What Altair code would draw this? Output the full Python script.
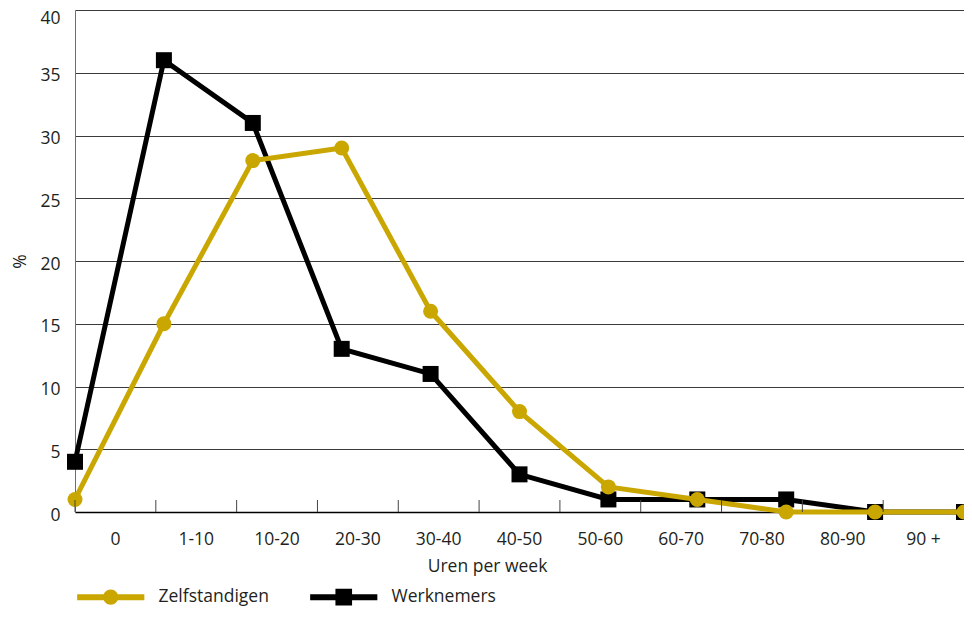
import altair as alt
import pandas as pd

categories = ['0', '1-10', '10-20', '20-30', '30-40', '40-50', '50-60',
              '60-70', '70-80', '80-90', '90 +']
zelfstandigen = [1, 15, 28, 29, 16, 8, 2, 1, 0, 0, 0]
werknemers = [4, 36, 31, 13, 11, 3, 1, 1, 1, 0, 0]
series_names = ['Zelfstandigen', 'Werknemers']
series_colors = ['#c9a700', '#000000']
y_ticks = [0, 5, 10, 15, 20, 25, 30, 35, 40]

GOLD = series_colors[0]
BLACK = series_colors[1]
FONT = 'Open Sans'
FS = 17.5
TXT = '#231f20'

rows = []
for i, c in enumerate(categories):
    rows.append({'i': i, 'cat': c, 'series': series_names[0], 'value': zelfstandigen[i]})
    rows.append({'i': i, 'cat': c, 'series': series_names[1], 'value': werknemers[i]})
df = pd.DataFrame(rows)

xq = alt.X('i:Q', scale=alt.Scale(domain=[0, 10], nice=False, zero=False), axis=None)
yq = alt.Y('value:Q', scale=alt.Scale(domain=[0, 40], nice=False),
           axis=alt.Axis(values=y_ticks, title='%', grid=True, gridColor='#3a3a3a', gridWidth=1,
                         ticks=False, tickSize=0, labelPadding=15, labelFontSize=FS,
                         labelFont=FONT, labelColor=TXT,
                         labelOffset={'condition': {'test': 'datum.value == 40', 'value': 8}, 'value': 3},
                         domainColor='#6e6e6e', domainWidth=1,
                         titleFont=FONT, titleFontSize=FS, titleFontWeight='normal', titleColor=TXT,
                         titleX=-55, titleY=251, titleAngle=270, titleAlign='center',
                         titleBaseline='middle'))

base = alt.Chart(df)

line_w = base.mark_line(color=BLACK, strokeWidth=5).encode(x=xq, y=yq).transform_filter(
    alt.datum.series == series_names[1])
pts_w = base.mark_point(shape='square', filled=True, size=256, color=BLACK, opacity=1).encode(
    x=xq, y=yq).transform_filter(alt.datum.series == series_names[1])
line_z = base.mark_line(color=GOLD, strokeWidth=5).encode(x=xq, y=yq).transform_filter(
    alt.datum.series == series_names[0])
pts_z = base.mark_point(shape='circle', filled=True, size=225, color=GOLD, opacity=1).encode(
    x=xq, y=yq).transform_filter(alt.datum.series == series_names[0])

ticks = alt.Chart(pd.DataFrame({'cat': categories})).mark_rule(color='#444444', strokeWidth=1).encode(
    x=alt.X('cat:N', sort=categories, bandPosition=0,
            scale=alt.Scale(type='band', paddingInner=0, paddingOuter=0),
            axis=alt.Axis(title='Uren per week', ticks=False, labelAngle=0, labelPadding=18,
                          labelFontSize=FS, labelFont=FONT, labelColor=TXT, domainColor='#000000',
                          domainWidth=1.5, grid=False, titleFont=FONT, titleFontSize=FS,
                          titleFontWeight='normal', titleColor=TXT, titleX=412, titleY=54,
                          titleAlign='center', titleBaseline='middle')),
    y=alt.value(490), y2=alt.value(502))

path_z = "M-4.2,-0.375H4.2V0.375H-4.2Z M-0.94,0A0.94,0.94 0 1,1 0.94,0A0.94,0.94 0 1,1 -0.94,0Z"
path_w = "M-4.2,-0.375H4.2V0.375H-4.2Z M-1.04,-1.04H1.04V1.04H-1.04Z"

leg = alt.Legend(orient='none', legendX=27, legendY=578, direction='horizontal', title=None,
                 labelFontSize=FS, labelFont=FONT, labelColor=TXT, labelOffset=39,
                 columnPadding=41, symbolSize=256, symbolStrokeWidth=0, symbolOpacity=1,
                 padding=0, labelLimit=300)

legend_layer = alt.Chart(df).mark_point(filled=True, opacity=1, size=256).encode(
    color=alt.Color('series:N', scale=alt.Scale(domain=series_names, range=series_colors), legend=leg),
    shape=alt.Shape('series:N', scale=alt.Scale(domain=series_names, range=[path_z, path_w]), legend=leg),
).transform_filter('false')

chart = alt.layer(line_w, pts_w, line_z, pts_z, ticks, legend_layer).resolve_scale(
    x='independent'
).properties(
    width=889, height=502,
    autosize=alt.AutoSizeParams(type='none'),
    padding={'left': 67, 'top': 2, 'right': 0, 'bottom': 96},
).configure_view(fill='#f5f5f5', stroke='transparent')

chart.save("out.html", embed_options={"renderer": "svg", "actions": False})
